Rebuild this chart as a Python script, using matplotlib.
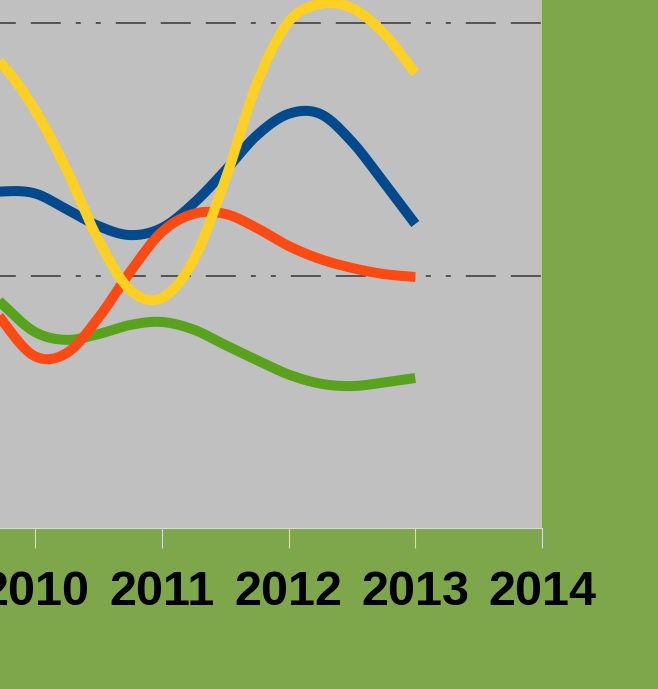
import numpy as np
import matplotlib
matplotlib.use("Agg")
import matplotlib.pyplot as plt

plt.rcParams['lines.scale_dashes'] = False

# quarter-year points
years = [2009.5, 2009.75, 2010.0, 2010.25, 2010.5, 2010.75, 2011.0, 2011.25,
         2011.5, 2011.75, 2012.0, 2012.25, 2012.5, 2012.75, 2013.0]

blue = [13.15, 13.33, 13.25, 12.62, 11.96, 11.60, 11.88, 12.85,
        14.15, 15.55, 16.40, 16.40, 15.30, 13.70, 12.04]
yellow = [19.40, 18.30, 16.55, 14.18, 11.41, 9.43, 9.11, 10.61,
          13.78, 17.60, 20.04, 20.75, 20.59, 19.60, 18.02]
red = [10.10, 8.16, 6.80, 6.93, 8.32, 10.14, 11.72, 12.44,
       12.44, 11.88, 11.17, 10.65, 10.30, 10.06, 9.94]
green = [10.10, 8.83, 7.76, 7.45, 7.68, 8.04, 8.16, 7.86,
         7.25, 6.65, 6.08, 5.72, 5.62, 5.76, 5.94]

tick_years = [2010, 2011, 2012, 2013, 2014]

FIG_BG = '#7ea64b'
PLOT_BG = '#c0c0c0'


def smooth(x, y, n=24):
    # catmull-rom curve through the points, like excel's smoothed line
    x = np.asarray(x, float)
    y = np.asarray(y, float)
    px = np.concatenate([[2 * x[0] - x[1]], x, [2 * x[-1] - x[-2]]])
    py = np.concatenate([[2 * y[0] - y[1]], y, [2 * y[-1] - y[-2]]])
    xs, ys = [], []
    t = np.linspace(0, 1, n, endpoint=False)
    for i in range(1, len(px) - 2):
        for arr, out in ((px, xs), (py, ys)):
            p0, p1, p2, p3 = arr[i - 1], arr[i], arr[i + 1], arr[i + 2]
            out.append(0.5 * ((2 * p1) + (-p0 + p2) * t
                              + (2 * p0 - 5 * p1 + 4 * p2 - p3) * t ** 2
                              + (-p0 + 3 * p1 - 3 * p2 + p3) * t ** 3))
    xs.append([x[-1]])
    ys.append([y[-1]])
    return np.concatenate(xs), np.concatenate(ys)


fig = plt.figure(figsize=(6.58, 6.89), dpi=100, facecolor=FIG_BG)
ax = fig.add_axes([-91.75 / 658, 161 / 689, 633.75 / 658, 631.25 / 689])
ax.set_facecolor(PLOT_BG)

for vals, col in ((green, '#58a21e'), (blue, '#00498c'),
                  (red, '#ff4a14'), (yellow, '#ffd024')):
    sx, sy = smooth(years, vals)
    ax.plot(sx, sy, color=col, lw=7.2, solid_capstyle='butt', zorder=3)

ax.set_xlim(2009, 2014)
ax.set_ylim(0, 25)
ax.set_xticks(tick_years)
ax.set_xticklabels([str(y) for y in tick_years], fontsize=35,
                   fontweight='bold', family='Liberation Sans')
ax.set_yticks([10, 20])
ax.set_yticklabels([])
ax.tick_params(axis='y', length=0)
ax.tick_params(axis='x', length=14.4, width=0.8, color='#d9d9d9', pad=16)

dash = (41.9, (21.6, 10.8, 21.6, 10.8, 21.6, 10.8, 3.6, 10.8, 3.6, 10.8))
ax.grid(axis='y', color='#404040', lw=1.2, linestyle=dash)
ax.set_axisbelow(True)

for s in ('top', 'right', 'left'):
    ax.spines[s].set_visible(False)
ax.spines['bottom'].set_color('#d9d9d9')
ax.spines['bottom'].set_linewidth(0.8)

fig.savefig('out.png', dpi=100, facecolor=FIG_BG)
